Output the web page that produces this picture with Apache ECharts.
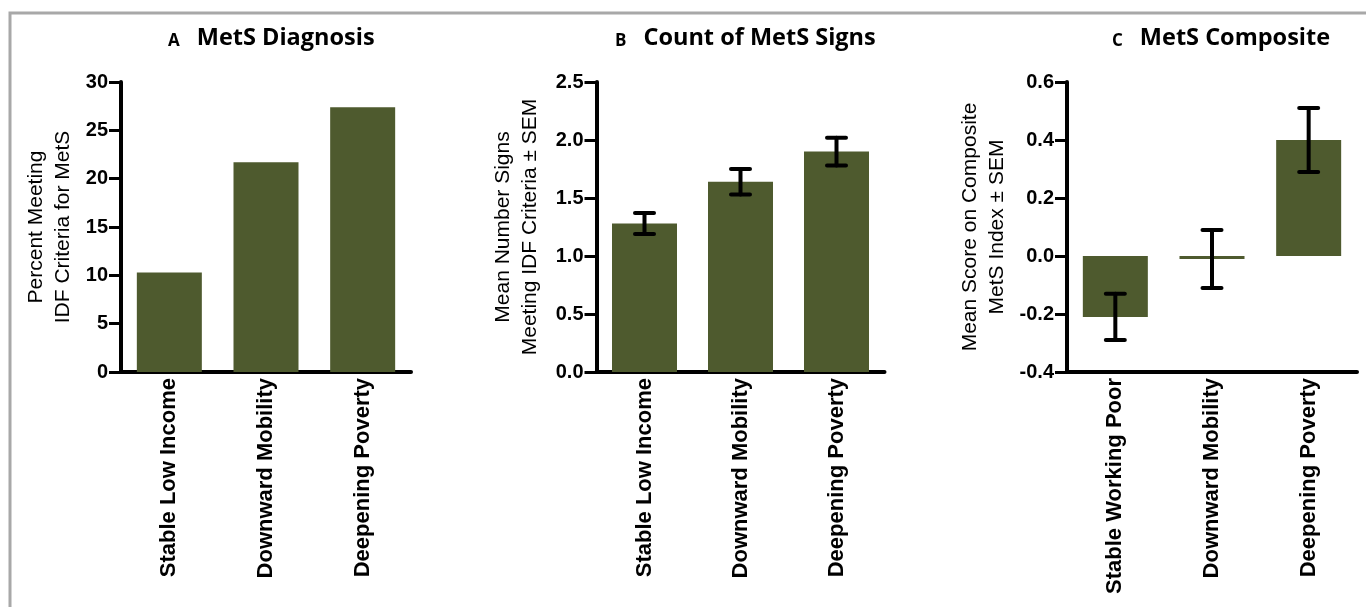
<!DOCTYPE html>
<html>
<head>
<meta charset="utf-8">
<script src="https://cdn.jsdelivr.net/npm/echarts@6/dist/echarts.min.js"></script>
<style>
html,body{margin:0;padding:0;background:#fff;}
#chart{width:1366px;height:607px;}
</style>
</head>
<body>
<div id="chart"></div>
<script>
// ---- data ----
const catsA = ['Stable Low Income', 'Downward Mobility', 'Deepening Poverty'];
const catsB = ['Stable Low Income', 'Downward Mobility', 'Deepening Poverty'];
const catsC = ['Stable Working Poor', 'Downward Mobility', 'Deepening Poverty'];

const pctMets = [10.3, 21.7, 27.4];
const meanSigns = [1.28, 1.64, 1.90];
const semSigns = [0.09, 0.11, 0.12];
const meanComposite = [-0.21, -0.01, 0.40];
const semComposite = [0.08, 0.10, 0.11];

const titlesLetter = ['A', 'B', 'C'];
const titlesText = ['MetS Diagnosis', 'Count of MetS Signs', 'MetS Composite'];
const yNames = [
  'Percent Meeting\nIDF Criteria for MetS',
  'Mean Number Signs\nMeeting IDF Criteria \u00B1 SEM',
  'Mean Score on Composite\nMetS Index \u00B1 SEM'
];

// ---- styles ----
const barColor = '#4e5a2e';
const FONT = '"Liberation Sans", Arial, Helvetica, sans-serif';

const chart = echarts.init(document.getElementById('chart'), null, {renderer: 'canvas'});

const grids = [
  {left: 121, top: 82, width: 290, height: 290},
  {left: 596.5, top: 82, width: 288, height: 290},
  {left: 1067, top: 82, width: 290, height: 290}
];
const nameGaps = [44, 53, 56];
const titleLefts = [168, 615, 1112];
const yCfg = [
  {min: 0, max: 30, interval: 5, fmt: v => String(v)},
  {min: 0, max: 2.5, interval: 0.5, fmt: v => v.toFixed(1)},
  {min: -0.4, max: 0.6, interval: 0.2, fmt: v => v.toFixed(1)}
];
const catsAll = [catsA, catsB, catsC];

function errData(means, sems) {
  return means.map((m, i) => [i, m - sems[i], m + sems[i]]);
}

function errRender(params, api) {
  const x = api.value(0);
  const lo = api.coord([x, api.value(1)]);
  const hi = api.coord([x, api.value(2)]);
  const hw = 9.5;
  const st = {stroke: '#000', lineWidth: 4, lineCap: 'round'};
  return {
    type: 'group',
    children: [
      {type: 'line', shape: {x1: lo[0], y1: lo[1], x2: hi[0], y2: hi[1]}, style: st},
      {type: 'line', shape: {x1: hi[0] - hw, y1: hi[1], x2: hi[0] + hw, y2: hi[1]}, style: st},
      {type: 'line', shape: {x1: lo[0] - hw, y1: lo[1], x2: lo[0] + hw, y2: lo[1]}, style: st}
    ]
  };
}

const option = {
  animation: false,
  backgroundColor: '#fff',
  graphic: [{
    type: 'rect', silent: true, z: -1,
    shape: {x: 10, y: 13, width: 1500, height: 800},
    style: {fill: 'none', stroke: '#a8a8a8', lineWidth: 3}
  }],
  title: titlesLetter.map((l, i) => ({
    left: titleLefts[i], top: 26, padding: 0,
    text: '{a|' + l + '}  {b|' + titlesText[i] + '}',
    textStyle: {
      rich: {
        a: {fontFamily: '"Open Sans", sans-serif', fontWeight: 'bold', fontSize: 17, color: '#000', verticalAlign: 'bottom', padding: [0, 7, 0, 0]},
        b: {fontFamily: '"Open Sans", sans-serif', fontWeight: 'bold', fontSize: 23.5, color: '#000', verticalAlign: 'bottom'}
      }
    }
  })),
  grid: grids,
  xAxis: catsAll.map((c, i) => ({
    type: 'category', gridIndex: i, data: c,
    axisLine: {onZero: false, lineStyle: {color: '#000', width: 4}},
    axisTick: {show: false},
    axisLabel: {rotate: 90, margin: 6, color: '#000', fontFamily: FONT, fontWeight: 'bold', fontSize: 22}
  })),
  yAxis: yCfg.map((y, i) => ({
    type: 'value', gridIndex: i, min: y.min, max: y.max, interval: y.interval,
    name: yNames[i], nameLocation: 'middle', nameGap: nameGaps[i],
    nameTextStyle: {color: '#000', fontFamily: FONT, fontSize: 21, lineHeight: 27},
    axisLine: {show: true, lineStyle: {color: '#000', width: 4}},
    axisTick: {show: true, length: 12, lineStyle: {color: '#000', width: 3}},
    axisLabel: {margin: 13, color: '#000', fontFamily: FONT, fontWeight: 'bold', fontSize: 20, formatter: y.fmt},
    splitLine: {show: false}
  })),
  series: [
    {type: 'bar', xAxisIndex: 0, yAxisIndex: 0, data: pctMets, barWidth: 65, itemStyle: {color: barColor}},
    {type: 'bar', xAxisIndex: 1, yAxisIndex: 1, data: meanSigns, barWidth: 65, itemStyle: {color: barColor}},
    {type: 'bar', xAxisIndex: 2, yAxisIndex: 2, data: meanComposite, barWidth: 65, itemStyle: {color: barColor}},
    {type: 'custom', xAxisIndex: 1, yAxisIndex: 1, data: errData(meanSigns, semSigns), renderItem: errRender, encode: {x: 0, y: [1, 2]}, z: 5},
    {type: 'custom', xAxisIndex: 2, yAxisIndex: 2, data: errData(meanComposite, semComposite), renderItem: errRender, encode: {x: 0, y: [1, 2]}, z: 5}
  ]
};
chart.setOption(option);
</script>
</body>
</html>
